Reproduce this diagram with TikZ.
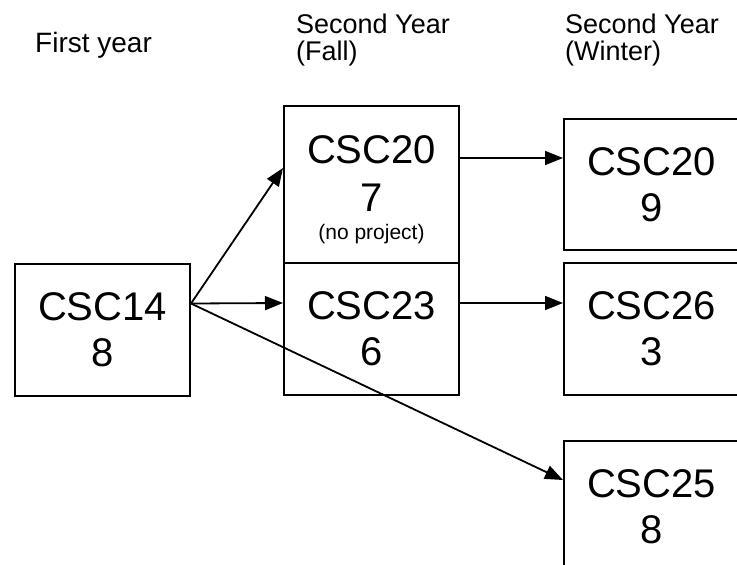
\documentclass[tikz,border=0pt]{standalone}
\usepackage{fontspec}
\setmainfont{Liberation Sans}
\usetikzlibrary{arrows.meta}

\begin{document}
\begin{tikzpicture}[
    x=1pt, y=-1pt,
    course/.style={
      draw, line width=2pt, minimum width=175pt, minimum height=132pt,
      inner sep=0pt, align=center, font=\fontsize{40}{46}\selectfont
    },
    head/.style={
      anchor=north west, inner sep=0pt, align=left,
      font=\fontsize{27}{27}\selectfont
    },
    link/.style={line width=1.8pt, -{Triangle[length=18pt,width=14pt]}}
  ]
    \useasboundingbox (0,0) rectangle (737,565);
    \node[head, anchor=base west, font=\fontsize{28}{28}\selectfont] (first) at (35,52) {First year};
    \node[head] (fall) at (296,14) {Second Year\\(Fall)};
    \node[head] (winter) at (565,14) {Second Year\\(Winter)};
    \node[course] (c148) at (102.5,329.5) {CSC14\\8};
    \node[course, minimum height=157pt] (c207) at (371.5,184.5) {{}\\[-7pt]CSC20\\[2pt]7\\[-18pt]{\fontsize{21}{24}\selectfont(no project)}};
    \node[course] (c236) at (371.5,329) {CSC23\\6};
    \node[course, minimum height=131pt] (c209) at (651.5,184.5) {CSC20\\9};
    \node[course] (c263) at (651.5,329) {CSC26\\3};
    \node[course, minimum height=131pt] (c258) at (651.5,506.5) {CSC25\\8};
    \coordinate (out) at ([yshift=26pt]c148.east);
    \draw[link] (out) -- ([yshift=16.5pt]c207.west);
    \draw[link] (out) -- ([yshift=26pt]c236.west);
    \draw[link] (out) -- ([yshift=26.5pt]c258.west);
    \draw[link] ([yshift=26.5pt]c207.east) -- ([yshift=26.5pt]c209.west);
    \draw[link] ([yshift=26pt]c236.east) -- ([yshift=26pt]c263.west);
  \end{tikzpicture}
\end{document}
